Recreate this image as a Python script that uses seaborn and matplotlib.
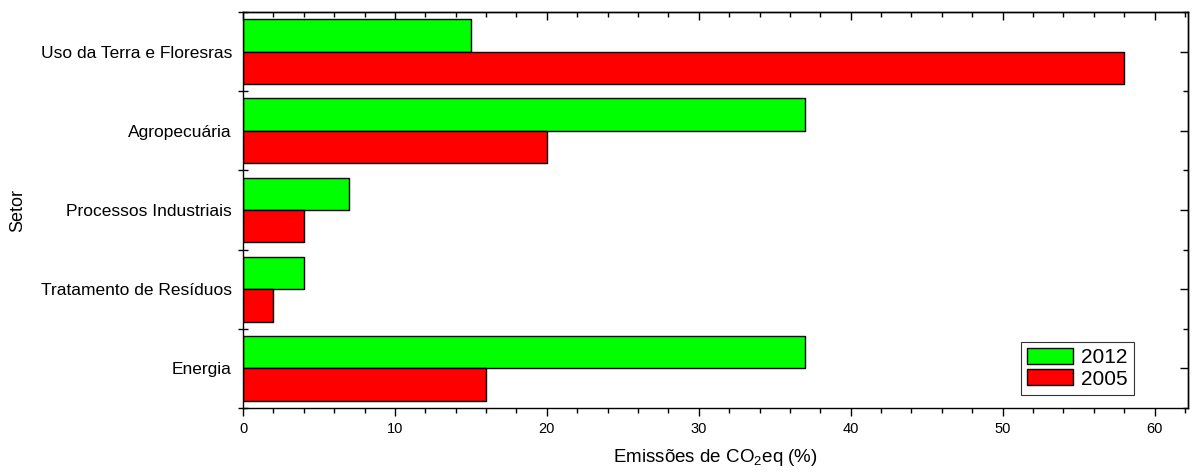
"""
Emissões de CO2eq por setor, 2005 x 2012 (barras horizontais agrupadas)
"""
import matplotlib
matplotlib.use('Agg')
import matplotlib.pyplot as plt
from matplotlib.ticker import MultipleLocator, FixedLocator
import pandas as pd
import seaborn as sns

# Dados
setores = ['Uso da Terra e Floresras', 'Agropecuária', 'Processos Industriais',
           'Tratamento de Resíduos', 'Energia']
anos = ['2012', '2005']
emissoes_2012 = [15, 37, 7, 4, 37]
emissoes_2005 = [58, 20, 4, 2, 16]
cores = {'2012': '#00FF00', '2005': '#FF0000'}

df = pd.DataFrame({
    'Setor': setores * 2,
    'Ano': ['2012'] * len(setores) + ['2005'] * len(setores),
    'Emissao': emissoes_2012 + emissoes_2005,
})

sns.set_style('ticks', {'text.color': 'black', 'axes.labelcolor': 'black',
                        'xtick.color': 'black', 'ytick.color': 'black',
                        'axes.edgecolor': 'black'})
plt.rcParams['font.family'] = ['Liberation Sans', 'DejaVu Sans']
plt.rcParams['mathtext.default'] = 'regular'

fig = plt.figure(figsize=(11.92, 4.74), dpi=100)
ax = fig.add_axes([243 / 1192, 66 / 474, 945 / 1192, 396 / 474])

sns.barplot(data=df, x='Emissao', y='Setor', hue='Ano', order=setores,
            hue_order=anos, palette=cores, orient='h', width=0.82,
            edgecolor='black', linewidth=1.0, saturation=1, ax=ax)

ax.set_xlim(0, 62.2)
ax.set_ylim(len(setores) - 0.5, -0.5)

for s in ax.spines.values():
    s.set_linewidth(1.0)
    s.set_color('black')
    s.set_visible(True)

# eixo x (inferior): ticks para fora
ax.xaxis.set_major_locator(MultipleLocator(10))
ax.xaxis.set_minor_locator(MultipleLocator(2))
ax.tick_params(axis='x', which='major', direction='out', length=6, width=1,
               labelsize=10.5, pad=4, colors='black')
ax.tick_params(axis='x', which='minor', direction='out', length=3.5, width=1)

# eixo y (esquerdo): rótulos no centro, ticks nos limites
ax.yaxis.set_minor_locator(FixedLocator([i - 0.5 for i in range(len(setores) + 1)]))
ax.tick_params(axis='y', which='major', length=0, labelsize=12.5, pad=8, colors='black')
ax.tick_params(axis='y', which='minor', direction='inout', length=7, width=1)

# topo e direita: ticks para dentro
top = ax.secondary_xaxis('top')
top.xaxis.set_major_locator(MultipleLocator(10))
top.xaxis.set_minor_locator(MultipleLocator(2))
top.tick_params(which='major', direction='in', length=6, width=1, labeltop=False)
top.tick_params(which='minor', direction='in', length=3.5, width=1)
top.spines['top'].set_linewidth(1.0)

right = ax.secondary_yaxis('right')
right.yaxis.set_major_locator(FixedLocator(list(range(len(setores)))))
right.yaxis.set_minor_locator(FixedLocator([i - 0.5 for i in range(len(setores) + 1)]))
right.tick_params(which='major', direction='in', length=6, width=1, labelright=False)
right.tick_params(which='minor', direction='in', length=3.5, width=1)
right.spines['right'].set_linewidth(1.0)

ax.set_xlabel('Emissões de CO$_2$eq (%)', fontsize=13.5, labelpad=8, color='black')
ax.set_ylabel('Setor', fontsize=13, labelpad=10, color='black')

leg = ax.legend(loc='lower right', bbox_to_anchor=(0.943, 0.033), borderaxespad=0,
                fontsize=15, frameon=True, fancybox=False, handlelength=2.2,
                handleheight=0.8, handletextpad=0.4, labelspacing=0.1,
                borderpad=0.3)
leg.get_frame().set_edgecolor('black')
leg.get_frame().set_linewidth(0.8)

fig.savefig('out.png', dpi=100)
